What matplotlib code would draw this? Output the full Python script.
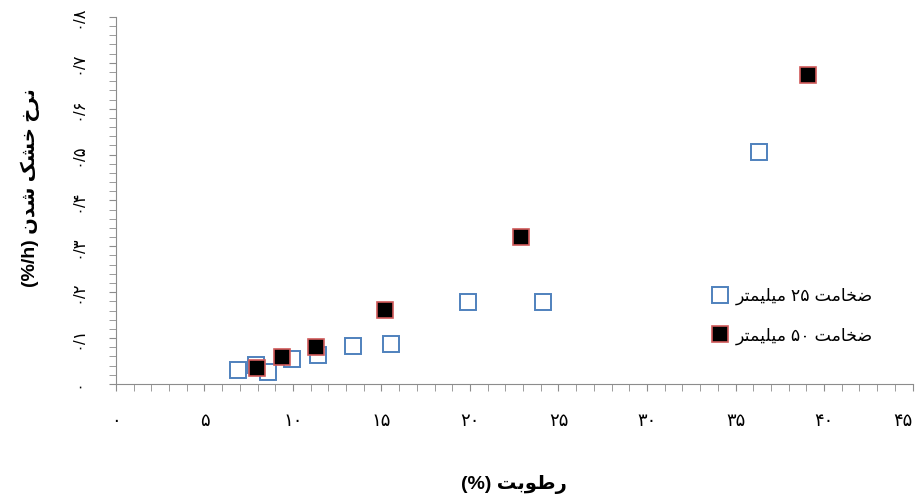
import numpy as np
import matplotlib
matplotlib.use('Agg')
from matplotlib import pyplot as plt
from matplotlib.ticker import MultipleLocator

plt.rcParams['font.family'] = ['Liberation Sans', 'DejaVu Sans']

# data
x_25 = [6.88, 7.89, 8.57, 9.93, 11.43, 13.41, 15.54, 19.87, 24.14, 36.33]
y_25 = [0.031, 0.041, 0.027, 0.054, 0.063, 0.083, 0.087, 0.179, 0.179, 0.506]
x_50 = [7.95, 9.36, 11.30, 15.20, 22.88, 39.08]
y_50 = [0.034, 0.058, 0.080, 0.162, 0.320, 0.673]

x_ticks = [0, 5, 10, 15, 20, 25, 30, 35, 40, 45]
x_tick_labels = ['۰', '۵', '۱۰', '۱۵', '۲۰', '۲۵', '۳۰', '۳۵', '۴۰', '۴۵']
y_ticks = [0, 0.1, 0.2, 0.3, 0.4, 0.5, 0.6, 0.7, 0.8]
y_tick_labels = ['۰', '۰/۱', '۰/۲', '۰/۳', '۰/۴', '۰/۵', '۰/۶', '۰/۷', '۰/۸']

label_25 = 'ضخامت ۲۵ میلیمتر'
label_50 = 'ضخامت ۵۰ میلیمتر'
x_title = 'رطوبت (%)'
y_title = 'نرخ خشک شدن (%/h)'

# --- minimal arabic/persian shaping (matplotlib has no bidi) ---
forms = {
    'ا': (0xFE8D, 0xFE8E, None, None),
    'ب': (0xFE8F, 0xFE90, 0xFE91, 0xFE92),
    'ت': (0xFE95, 0xFE96, 0xFE97, 0xFE98),
    'خ': (0xFEA5, 0xFEA6, 0xFEA7, 0xFEA8),
    'د': (0xFEA9, 0xFEAA, None, None),
    'ر': (0xFEAD, 0xFEAE, None, None),
    'ش': (0xFEB5, 0xFEB6, 0xFEB7, 0xFEB8),
    'ض': (0xFEBD, 0xFEBE, 0xFEBF, 0xFEC0),
    'ط': (0xFEC1, 0xFEC2, 0xFEC3, 0xFEC4),
    'ل': (0xFEDD, 0xFEDE, 0xFEDF, 0xFEE0),
    'م': (0xFEE1, 0xFEE2, 0xFEE3, 0xFEE4),
    'ن': (0xFEE5, 0xFEE6, 0xFEE7, 0xFEE8),
    'و': (0xFEED, 0xFEEE, None, None),
    'ک': (0xFB8E, 0xFB8F, 0xFB90, 0xFB91),
    'ی': (0xFBFC, 0xFBFD, 0xFBFE, 0xFBFF),
}


def shape_word(w):
    out = []
    for i, c in enumerate(w):
        if c not in forms:
            out.append(c)
            continue
        p = w[i - 1] if i > 0 else None
        n = w[i + 1] if i < len(w) - 1 else None
        jp = p in forms and forms[p][2] is not None
        jn = forms[c][2] is not None and n in forms
        f = forms[c]
        if jp and jn:
            out.append(chr(f[3]))
        elif jp:
            out.append(chr(f[1]))
        elif jn:
            out.append(chr(f[2]))
        else:
            out.append(chr(f[0]))
    return ''.join(out)


def rtl(s):
    # visual order: words right-to-left, latin/digit runs kept as is
    parts = s.split(' ')
    vis = []
    for p in parts:
        if p and p[0] in forms:
            vis.append(shape_word(p)[::-1])
        else:
            vis.append(p)
    return ' '.join(vis[::-1])


fig = plt.figure(figsize=(9.16, 4.98), dpi=100)
ax = fig.add_axes([0.1266, 0.229, 0.8696, 0.737])

ax.plot(x_25, y_25, 's', ms=11, mfc='white', mec='#4F81BD', mew=1.4,
        label=rtl(label_25), zorder=3)
ax.plot(x_50, y_50, 's', ms=11, mfc='black', mec='#D05A5A', mew=1.2,
        label=rtl(label_50), zorder=4)

ax.set_xlim(0, 45)
ax.set_ylim(0, 0.8)
ax.set_xticks(x_ticks)
ax.set_xticklabels(x_tick_labels, fontsize=13)
ax.get_xticklabels()[-1].set_ha('right')
ax.set_yticks(y_ticks)
ax.set_yticklabels(y_tick_labels, rotation=90, va='center', fontsize=12)
ax.xaxis.set_minor_locator(MultipleLocator(1))
ax.yaxis.set_minor_locator(MultipleLocator(0.02))

for s in ['top', 'right']:
    ax.spines[s].set_visible(False)
for s in ['left', 'bottom']:
    ax.spines[s].set_color('#8c8c8c')
ax.tick_params(which='both', direction='out', length=5, color='#8c8c8c')
ax.tick_params(axis='x', which='major', pad=16)
ax.tick_params(axis='y', which='major', pad=17)

ax.set_xlabel(rtl(x_title), fontsize=14, fontweight='bold', labelpad=32)
ax.set_ylabel(rtl(y_title), fontsize=14, fontweight='bold')
ax.yaxis.set_label_coords(-0.0954, 0.534)

ax.legend(loc='upper left', bbox_to_anchor=(0.728, 0.305), frameon=False,
          fontsize=12.5, handletextpad=0.4, labelspacing=1.3, handlelength=1.0)

fig.savefig('out.png', dpi=100)
